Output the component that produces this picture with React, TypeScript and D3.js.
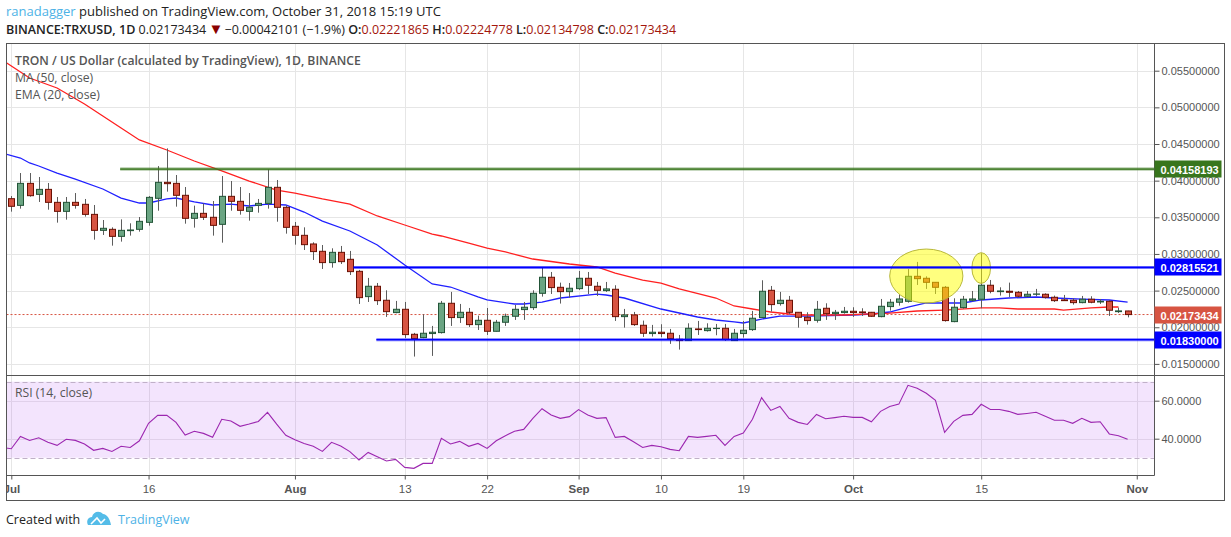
import {default as React, useEffect, useRef} from "react";
import * as d3 from "d3";

// candles, one per day starting 2018-07-01
const opens = [
    .03754, .03663, .03963, .03813, .03881, .03704, .03581, .03704, .03677, .03540, .03322, .03336, .03240, .03318, .03336, .03431,
    .03759, .03977, .03963, .03800, .03486, .03554, .03500, .03404, .03786, .03718, .03581, .03663, .03690, .03909, .03636, .03377,
    .03254, .03136, .03036, .02882, .03022, .02927, .02763, .02418, .02559, .02368, .02200, .02245, .01904, .01859, .01914, .01927,
    .02327, .02132, .02204, .02036, .02095, .01945, .02068, .02150, .02241, .02268, .02463, .02682, .02545, .02486, .02527, .02668,
    .02559, .02500, .02518, .02145, .02168, .02027, .01914, .01932, .01918, .01836, .01818, .01977, .01954, .01982, .01986, .01818,
    .01914, .01968, .02132, .02504, .02323, .02368, .02204, .02136, .02095, .02259, .02186, .02200, .02218, .02209, .02204, .02145,
    .02282, .02341, .02354, .02695, .02668, .02613, .02545, .02077, .02268, .02368, .02382, .02573, .02486, .02491, .02477, .02423,
    .02450, .02450, .02409, .02373, .02368, .02336, .02382, .02345, .02354, .02213, .02222
];
const highs = [
    .03790, .04104, .04104, .04050, .03968, .03777, .03777, .03831, .03750, .03668, .03463, .03363, .03472, .03418, .03504, .03790,
    .04199, .04440, .04077, .03913, .03659, .03690, .03722, .04063, .03995, .03913, .03831, .03750, .04154, .04009, .03663, .03436,
    .03363, .03159, .03122, .03077, .03109, .03041, .02782, .02673, .02604, .02504, .02359, .02345, .01923, .02177, .02018, .02359,
    .02482, .02318, .02263, .02159, .02263, .02100, .02186, .02304, .02345, .02504, .02822, .02754, .02609, .02604, .02768, .02754,
    .02618, .02618, .02573, .02250, .02209, .02091, .02032, .02041, .01977, .01895, .02054, .02086, .02054, .02045, .02045, .01977,
    .02086, .02223, .02641, .02563, .02482, .02427, .02204, .02204, .02359, .02327, .02236, .02277, .02273, .02259, .02209, .02386,
    .02386, .02450, .02795, .02891, .02695, .02613, .02563, .02395, .02427, .02495, .03009, .02645, .02545, .02609, .02495, .02495,
    .02523, .02463, .02432, .02441, .02395, .02427, .02423, .02386, .02368, .02268, .02225
];
const lows = [
    .03577, .03618, .03781, .03709, .03604, .03427, .03468, .03618, .03509, .03195, .03259, .03113, .03168, .03250, .03304, .03386,
    .03590, .03850, .03645, .03413, .03359, .03463, .03250, .03154, .03590, .03536, .03454, .03563, .03618, .03440, .03277, .03127,
    .03054, .02918, .02795, .02813, .02863, .02713, .02318, .02345, .02304, .02141, .02191, .01854, .01600, .01850, .01609, .01914,
    .02018, .02059, .02004, .01963, .01895, .01941, .02018, .02100, .02100, .02236, .02418, .02454, .02323, .02404, .02509, .02454,
    .02427, .02482, .02086, .01995, .02018, .01868, .01873, .01864, .01773, .01695, .01813, .01895, .01941, .01891, .01813, .01813,
    .01859, .01950, .02127, .02213, .02295, .02177, .01995, .02036, .02063, .02100, .02100, .02186, .02141, .02154, .02141, .02136,
    .02227, .02295, .02336, .02577, .02523, .02454, .02077, .02068, .02254, .02350, .02259, .02463, .02432, .02413, .02404, .02409,
    .02423, .02391, .02345, .02359, .02309, .02327, .02327, .02318, .02154, .02195, .02135
];
const closes = [
    .03650, .03963, .03795, .03881, .03704, .03581, .03704, .03663, .03540, .03322, .03350, .03240, .03322, .03327, .03445, .03772,
    .03977, .03959, .03800, .03486, .03554, .03500, .03390, .03786, .03718, .03595, .03636, .03690, .03909, .03636, .03363, .03254,
    .03127, .03032, .02882, .03022, .02895, .02759, .02404, .02559, .02363, .02213, .02245, .01900, .01845, .01918, .01932, .02327,
    .02132, .02204, .02036, .02095, .01945, .02068, .02150, .02245, .02273, .02463, .02682, .02541, .02486, .02532, .02668, .02573,
    .02504, .02523, .02145, .02168, .02036, .01918, .01932, .01914, .01845, .01818, .01986, .01968, .01986, .01986, .01832, .01918,
    .01959, .02123, .02491, .02309, .02368, .02204, .02136, .02091, .02245, .02186, .02204, .02218, .02200, .02200, .02150, .02286,
    .02341, .02386, .02695, .02663, .02613, .02545, .02091, .02273, .02382, .02386, .02573, .02491, .02495, .02477, .02423, .02450,
    .02454, .02409, .02363, .02363, .02336, .02382, .02341, .02354, .02232, .02223, .02173
];

// MA (50): day index, price
const maDays = [-1, 2, 5, 8, 10, 12, 14, 17, 20, 23, 26, 29, 31, 34, 37, 40, 43, 46, 47, 50, 52, 54, 57, 61, 64, 66, 69, 71, 73, 77, 79, 81, 83, 86, 91, 96, 99, 102, 106, 108, 110, 114, 115, 118, 120, 121];
const maValues = [.05646, .05400, .05264, .05046, .04882, .04718, .04555, .04418, .04268, .04132, .03995, .03872, .03831, .03750, .03681, .03518, .03395, .03272, .03245, .03149, .03081, .03027, .02931, .02863, .02822, .02740, .02644, .02603, .02522, .02399, .02290, .02249, .02208, .02167, .02167, .02194, .02222, .02235, .02263, .02263, .02249, .02249, .02235, .02263, .02276, .02276];

// EMA (20)
const emaDays = [-1, 1, 2, 3, 5, 7, 10, 12, 14, 15, 17, 18, 20, 22, 24, 26, 28, 30, 32, 34, 37, 40, 43, 46, 48, 51, 52, 55, 56, 58, 60, 64, 65, 67, 71, 75, 77, 79, 80, 82, 84, 87, 92, 94, 96, 98, 100, 104, 106, 109, 112, 114, 117, 120, 122];
const emaValues = [.04377, .04309, .04241, .04200, .04104, .04022, .03886, .03763, .03695, .03695, .03750, .03763, .03709, .03668, .03681, .03654, .03681, .03668, .03572, .03449, .03313, .03122, .02849, .02590, .02549, .02413, .02372, .02317, .02317, .02344, .02399, .02453, .02440, .02399, .02249, .02140, .02099, .02072, .02058, .02112, .02153, .02153, .02167, .02181, .02208, .02276, .02331, .02331, .02372, .02399, .02413, .02399, .02385, .02372, .02344];

// RSI, first value is the day before the first candle
const rsiValues = [
    35.4, 34.7, 41.2, 39.1, 40.5, 38.1, 36.5, 39.7, 39.1, 37.2, 33.9, 34.9, 33.3, 36.0, 35.4, 38.9, 48.1, 52.3, 52.3, 48.6, 41.9, 43.9, 42.8, 40.7, 50.2,
    49.3, 46.5, 47.7, 49.1, 53.9, 47.7, 41.8, 39.5, 37.5, 36.0, 33.3, 38.1, 36.1, 33.2, 28.8, 32.8, 30.5, 28.3, 29.1, 24.9, 24.4, 27.0, 27.0, 40.2, 37.2,
    38.6, 36.0, 37.5, 34.9, 38.9, 41.6, 43.9, 44.9, 50.7, 55.8, 52.5, 50.7, 51.6, 55.3, 52.5, 50.7, 51.1, 40.7, 41.2, 38.4, 35.4, 36.5, 35.8, 34.4, 33.7,
    41.2, 40.7, 41.2, 41.8, 36.5, 41.2, 43.0, 50.2, 61.6, 54.9, 57.0, 50.7, 48.6, 47.5, 52.8, 50.5, 51.1, 51.8, 51.2, 51.2, 48.9, 54.4, 57.0, 58.2, 68.1,
    66.5, 63.9, 60.2, 43.3, 49.1, 52.3, 52.8, 58.1, 55.4, 55.4, 54.4, 52.8, 53.3, 53.9, 51.8, 49.7, 49.7, 48.1, 50.7, 48.6, 48.9, 42.5, 41.6, 39.7
];

const priceTicks = [.055, .05, .045, .04, .035, .03, .025, .02, .015];
const rsiTicks = [60, 40];
const rsiBand = [70, 30];
const timeTicks = [0, 15, 31, 43, 52, 62, 71, 80, 92, 106, 123];
const timeLabels = ["Jul", "16", "Aug", "13", "22", "Sep", "10", "19", "Oct", "15", "Nov"];
const monthLabels = ["Jul", "Aug", "Sep", "Oct", "Nov"];

// horizontal levels: price, first day, colour
const levelPrices = [.04158193, .02815521, .0183];
const levelStarts = [11.9, 37.4, 39.9];
const levelColors = ["#38761d", "#0000ff", "#0000ff"];
const lastPrice = .02173434;

// highlighted areas on the chart: centre day, centre price, half width in days, half height in price
const marks = [
    {day: 100, price: .02699, rx: 4.0, ry: .00368},
    {day: 106, price: .02808, rx: 1.02, ry: .00210}
];

const WIDTH = 1231;
const HEIGHT = 537;
const FONT = "'Open Sans', sans-serif";
const AXIS_FONT = "'Liberation Sans', Arial, sans-serif";
const UP = {fill: "#6ba583", line: "#225437"};
const DOWN = {fill: "#d75442", line: "#6b1003"};

const left = 6.5;
const top = 43.5;
const paneRight = 1154.5;
const frameRight = 1224.5;
const paneSplit = 375.5;
const timeAxisY = 475.5;
const frameBottom = 500.5;

const dayDate = (d: number) => new Date(Date.UTC(2018, 6, 1) + d * 86400000);

function App(): JSX.Element {
    const svgRef = useRef<SVGSVGElement>(null);

    useEffect(() => {
        if (!svgRef.current) return;
        const svg = d3.select(svgRef.current);
        svg.selectAll("*").remove();

        const x = d3.scaleUtc().domain([dayDate(0), dayDate(123)]).range([11.3, 1136.75]);
        const xDay = (d: number) => x(dayDate(d));
        const y = d3.scaleLinear().domain([.055, .015]).range([70.7, 363.9]);
        const yRsi = d3.scaleLinear().domain([60, 40]).range([400.7, 438.7]);

        const defs = svg.append("defs");
        defs.append("clipPath").attr("id", "price-pane").append("rect")
            .attr("x", left).attr("y", top).attr("width", paneRight - left).attr("height", paneSplit - top);
        defs.append("clipPath").attr("id", "rsi-pane").append("rect")
            .attr("x", left).attr("y", paneSplit).attr("width", paneRight - left).attr("height", timeAxisY - paneSplit);
        defs.append("clipPath").attr("id", "time-axis").append("rect")
            .attr("x", left).attr("y", timeAxisY).attr("width", paneRight - left).attr("height", frameBottom - timeAxisY);

        // grid
        const grid = svg.append("g").attr("stroke", "#e6e6e6").attr("stroke-width", 1);
        grid.selectAll("line.h").data(priceTicks).enter().append("line")
            .attr("x1", left).attr("x2", paneRight)
            .attr("y1", d => Math.round(y(d)) + .5).attr("y2", d => Math.round(y(d)) + .5);
        grid.selectAll("line.v").data(timeTicks).enter().append("line")
            .attr("x1", d => Math.round(xDay(d)) + .5).attr("x2", d => Math.round(xDay(d)) + .5)
            .attr("y1", top).attr("y2", timeAxisY);

        // RSI pane
        const rsi = svg.append("g").attr("clip-path", "url(#rsi-pane)");
        rsi.append("rect")
            .attr("x", left).attr("width", paneRight - left)
            .attr("y", yRsi(rsiBand[0])).attr("height", yRsi(rsiBand[1]) - yRsi(rsiBand[0]))
            .attr("fill", "#a020f0").attr("opacity", .12);
        rsi.selectAll("line.rsi-grid").data(rsiTicks).enter().append("line")
            .attr("x1", left).attr("x2", paneRight)
            .attr("y1", d => Math.round(yRsi(d)) + .5).attr("y2", d => Math.round(yRsi(d)) + .5)
            .attr("stroke", "#e0d0ea");
        rsi.selectAll("line.band").data(rsiBand).enter().append("line")
            .attr("x1", left).attr("x2", paneRight)
            .attr("y1", d => Math.round(yRsi(d)) + .5).attr("y2", d => Math.round(yRsi(d)) + .5)
            .attr("stroke", "#c0b0c8").attr("stroke-dasharray", "5 3");
        rsi.append("path")
            .attr("d", d3.line<number>().x((_, i) => xDay(i - 1)).y(d => yRsi(d))(rsiValues))
            .attr("fill", "none").attr("stroke", "#9c27b0").attr("stroke-width", 1.1);

        // price pane
        const main = svg.append("g").attr("clip-path", "url(#price-pane)");
        main.append("line")
            .attr("x1", left).attr("x2", paneRight)
            .attr("y1", y(lastPrice)).attr("y2", y(lastPrice))
            .attr("stroke", "#d75442").attr("stroke-dasharray", "2 2");

        const trend = d3.line<number>().x(d => xDay(d)).y((_, i) => 0);
        main.append("path")
            .attr("d", trend.y((_, i) => y(emaValues[i]))(emaDays))
            .attr("fill", "none").attr("stroke", "#2020ff").attr("stroke-width", 1.3);
        main.append("path")
            .attr("d", trend.y((_, i) => y(maValues[i]))(maDays))
            .attr("fill", "none").attr("stroke", "#ff2020").attr("stroke-width", 1.3);

        const candles = main.selectAll("g.candle").data(d3.range(opens.length)).enter().append("g").attr("class", "candle");
        const candleColor = (i: number) => closes[i] >= opens[i] ? UP : DOWN;
        candles.append("line")
            .attr("x1", i => Math.round(xDay(i)) + .5).attr("x2", i => Math.round(xDay(i)) + .5)
            .attr("y1", i => y(highs[i])).attr("y2", i => y(lows[i]))
            .attr("stroke", "#5d5d5d");
        candles.append("rect")
            .attr("x", i => Math.round(xDay(i)) - 2.5).attr("width", 6)
            .attr("y", i => y(Math.max(opens[i], closes[i])))
            .attr("height", i => Math.abs(y(opens[i]) - y(closes[i])))
            .attr("fill", i => candleColor(i).fill)
            .attr("stroke", i => candleColor(i).line)
            .attr("stroke-width", 1);

        main.selectAll("ellipse").data(marks).enter().append("ellipse")
            .attr("cx", d => xDay(d.day)).attr("cy", d => y(d.price))
            .attr("rx", d => xDay(d.rx) - xDay(0)).attr("ry", d => y(0) - y(d.ry))
            .attr("fill", "#ffff00").attr("fill-opacity", .5)
            .attr("stroke", "#b8b83a").attr("stroke-width", 1);

        // levels, a soft wide line with a sharper one on top
        levelPrices.forEach((p, i) => {
            const level = main.append("g").attr("stroke", levelColors[i]);
            level.append("line")
                .attr("x1", xDay(levelStarts[i])).attr("x2", paneRight)
                .attr("y1", y(p)).attr("y2", y(p))
                .attr("stroke-width", 3).attr("opacity", .55);
            level.append("line")
                .attr("x1", xDay(levelStarts[i])).attr("x2", paneRight)
                .attr("y1", y(p)).attr("y2", y(p))
                .attr("stroke-width", 1.3);
        });

        // frame
        const frame = svg.append("g").attr("fill", "none").attr("stroke", "#555555").attr("stroke-width", 1);
        frame.append("rect").attr("x", left).attr("y", top).attr("width", frameRight - left).attr("height", frameBottom - top);
        frame.append("line").attr("x1", paneRight).attr("x2", paneRight).attr("y1", top).attr("y2", timeAxisY);
        frame.append("line").attr("x1", left).attr("x2", paneRight).attr("y1", timeAxisY).attr("y2", timeAxisY);
        frame.append("line").attr("x1", left).attr("x2", frameRight).attr("y1", paneSplit).attr("y2", paneSplit);

        const styleAxis = (g: any) => {
            g.select(".domain").remove();
            g.selectAll("line").attr("stroke", "#555555");
            g.selectAll("text")
                .attr("fill", "#555555")
                .style("font-family", AXIS_FONT)
                .style("font-size", "11px");
        };

        // price axis
        svg.append("g")
            .attr("transform", `translate(${paneRight},0)`)
            .call(d3.axisRight(y).tickValues(priceTicks).tickSize(5).tickPadding(2).tickFormat((d: any) => d3.format(".8f")(d)) as any)
            .call(styleAxis);

        // RSI axis
        svg.append("g")
            .attr("transform", `translate(${paneRight},0)`)
            .call(d3.axisRight(yRsi).tickValues(rsiTicks).tickSize(5).tickPadding(2).tickFormat((d: any) => d3.format(".4f")(d)) as any)
            .call(styleAxis);

        // time axis
        const timeAxis = svg.append("g")
            .attr("clip-path", "url(#time-axis)")
            .append("g")
            .attr("transform", `translate(0,${timeAxisY})`)
            .call(d3.axisBottom(x)
                .tickValues(timeTicks.map(dayDate))
                .tickSize(4)
                .tickPadding(5)
                .tickFormat((_: any, i: number) => timeLabels[i]) as any)
            .call(styleAxis);
        timeAxis.selectAll("text")
            .style("font-size", "11.5px")
            .style("font-weight", (_: any, i: number) => monthLabels.includes(timeLabels[i]) ? "bold" : "normal");

        // price labels on the axis
        const priceLabels = [
            {value: levelPrices[0], color: "#38761d"},
            {value: levelPrices[1], color: "#0000ff"},
            {value: lastPrice, color: "#d75442"},
            {value: levelPrices[2], color: "#0000ff"}
        ];
        const labels = svg.selectAll("g.price-label").data(priceLabels).enter().append("g").attr("class", "price-label");
        labels.append("rect")
            .attr("x", paneRight).attr("width", 67)
            .attr("y", d => Math.round(y(d.value)) - 8.5).attr("height", 17)
            .attr("fill", d => d.color);
        labels.append("text")
            .attr("x", paneRight + 6).attr("y", d => Math.round(y(d.value)) + 4.5)
            .attr("fill", "#ffffff")
            .style("font-family", AXIS_FONT).style("font-size", "11px").style("font-weight", "bold")
            .text(d => d3.format(".8f")(d.value));

        // pane titles
        const titles = [
            {text: "TRON / US Dollar (calculated by TradingView), 1D, BINANCE", y: 65, weight: 600},
            {text: "MA (50, close)", y: 82, weight: 400},
            {text: "EMA (20, close)", y: 99, weight: 400},
            {text: "RSI (14, close)", y: 397, weight: 400}
        ];
        svg.selectAll("text.title").data(titles).enter().append("text")
            .attr("class", "title")
            .attr("x", 15).attr("y", d => d.y)
            .attr("fill", "#555555")
            .style("font-family", FONT).style("font-size", "12.2px").style("font-weight", d => d.weight)
            .text(d => d.text);

        // header
        const head = svg.append("text").attr("x", 6).attr("y", 16)
            .style("font-family", FONT).style("font-size", "13px").attr("fill", "#222222");
        head.append("tspan").attr("fill", "#4db2e6").text("ranadagger");
        head.append("tspan").text(" published on TradingView.com, October 31, 2018 15:19 UTC");

        const quote = svg.append("text").attr("x", 6).attr("y", 34)
            .style("font-family", FONT).style("font-size", "12.5px").attr("fill", "#222222");
        quote.append("tspan").style("font-weight", 600).text("BINANCE:TRXUSD, 1D ");
        quote.append("tspan").text(" 0.02173434 ");
        quote.append("tspan").attr("fill", "#8b0000").attr("dx", -1).style("font-size", "15px").text("▼");
        quote.append("tspan").attr("dx", -2).text(" −0.00042101 (−1.9%) ");
        [["O:", "0.02221865"], ["H:", "0.02224778"], ["L:", "0.02134798"], ["C:", "0.02173434"]].forEach(([k, v]) => {
            quote.append("tspan").style("font-weight", 600).text(k);
            quote.append("tspan").attr("fill", "#a3160c").text(v + " ");
        });

        // footer
        svg.append("text").attr("x", 6).attr("y", 524)
            .attr("fill", "#222222").style("font-family", FONT).style("font-size", "12.5px").text("Created with");
        svg.append("path")
            .attr("d", "M88 525 C86 521 88 517 92 517 C93 512 99 510 103 514 C107 514 110 519 111 525 Z")
            .attr("fill", "#54bce8").attr("stroke", "none");
        svg.append("path")
            .attr("d", "M91 524 L97 518 L101 523 L105 519")
            .attr("fill", "none").attr("stroke", "#ffffff").attr("stroke-width", 1.6);
        svg.append("text").attr("x", 118).attr("y", 524)
            .attr("fill", "#4db2e6").style("font-family", FONT).style("font-size", "12.5px").text("TradingView");
    }, []);

    return (
        <svg
            ref={svgRef}
            width={WIDTH}
            height={HEIGHT}
            style={{position: "absolute", left: 0, top: 0, background: "#ffffff"}}
        />
    );
}

export default App;
